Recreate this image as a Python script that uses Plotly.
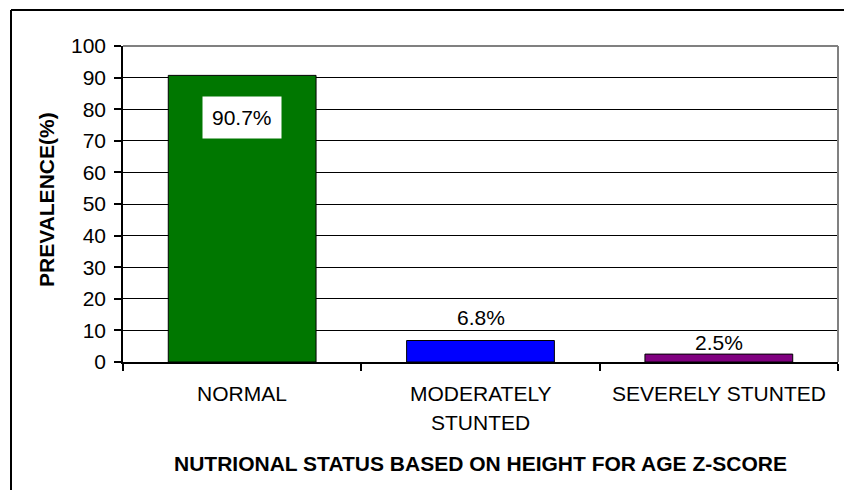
import plotly.graph_objects as go

categories = ["NORMAL", "MODERATELY\nSTUNTED", "SEVERELY STUNTED"]
values = [90.7, 6.8, 2.5]
value_labels = ["90.7%", "6.8%", "2.5%"]
y_ticks = [0, 10, 20, 30, 40, 50, 60, 70, 80, 90, 100]
bar_colors = ["#007700", "#0000FF", "#800080"]
x_title = "NUTRIONAL STATUS BASED ON HEIGHT FOR AGE Z-SCORE"
y_title = "PREVALENCE(%)"

W, H = 844, 490
L, R, T, B = 123, 6, 46, 128
pw, ph = W - L - R, H - T - B
FONT = "Liberation Sans, Arial, sans-serif"
FS = 21

cat_ids = [c.replace("\n", " ") for c in categories]

fig = go.Figure()
fig.add_trace(go.Bar(
    x=cat_ids, y=values, width=0.62,
    marker=dict(color=bar_colors, line=dict(color="black", width=1)),
    hoverinfo="skip", showlegend=False,
))

def px2paper_x(px):
    return (px - L) / pw

def px2paper_y(py):
    return (H - B - py) / ph

annotations = []
# category labels
for cid, c in zip(cat_ids, categories):
    for i, line in enumerate(c.split("\n")):
        annotations.append(dict(x=cid, xref="x", y=0, yref="y", text=line,
                                showarrow=False, yanchor="middle", xanchor="center",
                                yshift=-31 - 29 * i,
                                font=dict(family=FONT, size=FS, color="black")))
# value labels
for i, (cid, v, t) in enumerate(zip(cat_ids, values, value_labels)):
    if i == 0:
        annotations.append(dict(x=cid, xref="x", y=v, yref="y", text=t, showarrow=False,
                                yanchor="top", yshift=-21, bgcolor="white", borderpad=9,
                                font=dict(family=FONT, size=FS, color="black")))
    else:
        shift = 23 if i == 1 else 12
        annotations.append(dict(x=cid, xref="x", y=v, yref="y", text=t, showarrow=False,
                                yanchor="middle", yshift=shift,
                                font=dict(family=FONT, size=FS, color="black")))
# axis titles
annotations.append(dict(x=px2paper_x(480), xref="paper", y=px2paper_y(463), yref="paper",
                        text="<b>" + x_title + "</b>", showarrow=False,
                        xanchor="center", yanchor="middle",
                        font=dict(family=FONT, size=FS, color="black")))
annotations.append(dict(x=px2paper_x(46), xref="paper", y=px2paper_y(200), yref="paper",
                        text="<b>" + y_title + "</b>", showarrow=False, textangle=-90,
                        xanchor="center", yanchor="middle",
                        font=dict(family=FONT, size=FS, color="black")))

shapes = [
    # gray plot frame top/right
    dict(type="line", xref="paper", yref="paper", x0=0, x1=1, y0=1, y1=1,
         line=dict(color="#808080", width=2), layer="above"),
    dict(type="line", xref="paper", yref="paper", x0=1, x1=1, y0=0, y1=1,
         line=dict(color="#808080", width=2), layer="above"),
    # outer chart border
    dict(type="line", xref="paper", yref="paper", x0=px2paper_x(11), x1=px2paper_x(11),
         y0=px2paper_y(10), y1=px2paper_y(495), line=dict(color="black", width=2)),
    dict(type="line", xref="paper", yref="paper", x0=px2paper_x(11), x1=px2paper_x(850),
         y0=px2paper_y(10), y1=px2paper_y(10), line=dict(color="black", width=2)),
]

fig.update_layout(
    width=W, height=H, margin=dict(l=L, r=R, t=T, b=B),
    paper_bgcolor="white", plot_bgcolor="white",
    font=dict(family=FONT, size=FS, color="black"),
    bargap=0.38,
    annotations=annotations, shapes=shapes,
    xaxis=dict(type="category", categoryorder="array", categoryarray=cat_ids,
               showticklabels=False, ticks="outside", tickson="boundaries",
               ticklen=7, tickcolor="black", tickwidth=1.5,
               showline=True, linecolor="black", linewidth=1.5,
               showgrid=False, zeroline=False, fixedrange=True),
    yaxis=dict(range=[0, 100], tickvals=y_ticks, ticks="outside", ticklen=7,
               tickcolor="black", tickwidth=1.5, ticklabelstandoff=4,
               showline=True, linecolor="black", linewidth=1.5,
               showgrid=True, gridcolor="black", gridwidth=1,
               zeroline=False, tickfont=dict(family=FONT, size=FS)),
)

fig.write_html("out.html")
